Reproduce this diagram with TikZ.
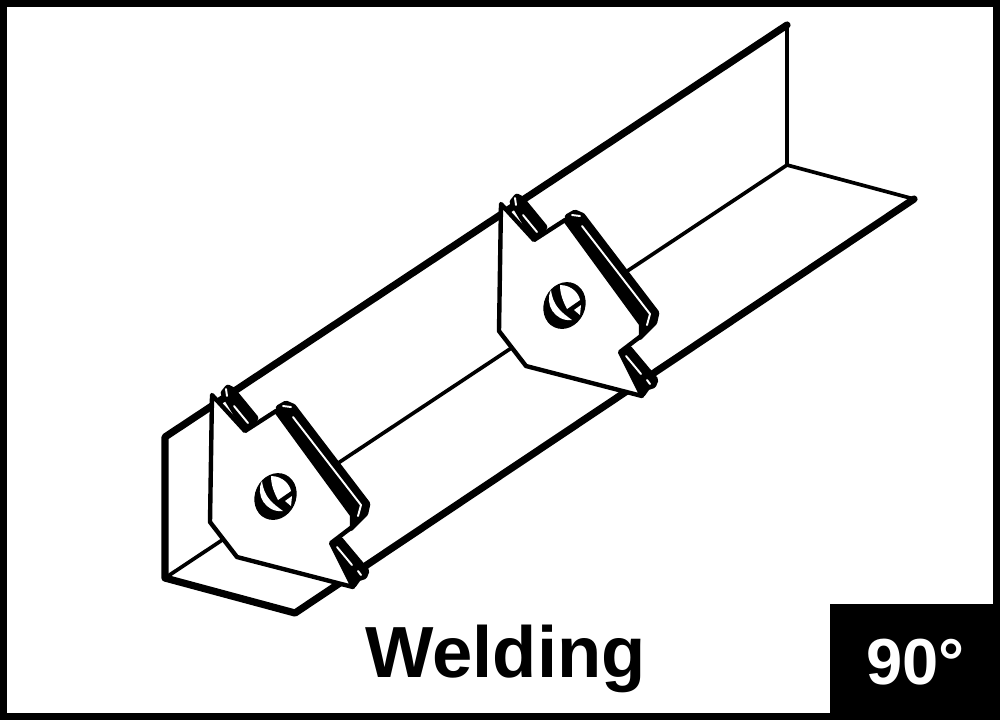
\documentclass[tikz,border=0pt]{standalone}
\usepackage{fontspec}
\setmainfont{Liberation Sans}
\begin{document}
\begin{tikzpicture}[x=.01cm, y=-.01cm, line join=round, line cap=round,
	edge/.style={line width=1.05pt},
	heavy/.style={line width=2.05pt},
	band/.style={fill=black, draw=black, line width=1.9pt},
	sliver/.style={draw=white, line width=.55pt},
	plate/.style={fill=white, draw=black, line width=1.25pt}]
\useasboundingbox (0,0) rectangle (1000,720);
\path (0,0) coordinate (P) (1000,720) coordinate (Q) (830,604) coordinate (K);
\fill[white] (P) rectangle (Q);
\draw[line width=2pt, line join=miter] (3.5,3.5) rectangle (996.5,716.5);
\fill (K) rectangle (1000,720);
% beam
\path (165,437) coordinate (A) (787,25) coordinate (B) (787,165) coordinate (C) (914,199) coordinate (D) (295,613) coordinate (E) (165,578) coordinate (F);
\draw[edge] (B)--(C)--(D) (C)--(F);
\draw[heavy] (F)--(A)--(B) (D)--(E)--(F);
% the two magnets
\foreach \dx/\dy in {0/0,289/-191}{
\begin{scope}[shift={(\dx,\dy)}]
\path[band] (279,408) -- (286,404) -- (293,407) -- (367,504) -- (365,513) -- (350,528) -- cycle;
\path[band] (224,393) -- (228,388) -- (232,390) -- (255,418) -- (245,428) -- cycle;
\path[band] (333,544) -- (340,540) -- (366,571) -- (364,576) -- (358,578) -- (353,585) -- cycle;
\draw[sliver] (293,417) -- (361,505) -- (358,516) (234,406) -- (248,423) (337,547) -- (352,565) (226,389) -- (227,396) (283,406) -- (291,407) (358,571) -- (361,575);
\path[plate] (212,395) -- (245,431) -- (276,411) -- (352,515) -- (352,527) -- (331,543) -- (353,587) -- (237,557) -- (210,522) -- cycle;
\fill[rotate around={-25:(275.5,496.5)}] (275.5,496.5) ellipse (20.5 and 24);
\fill[white] (262,481) .. controls (255,495) and (266,513) .. (283,511) .. controls (272,503) and (264,497) .. cycle;
\fill[white] (271,476) .. controls (283,476) and (290,485) .. (291,491) -- (278,500) .. controls (274,492) and (271,485) .. cycle;
\fill[white] (285,501) -- (292,496) -- (291,506) -- cycle;
\end{scope}
}
\node[font=\bfseries\fontsize{20.6}{24}\selectfont, inner sep=0pt] (weldingtext) at (505.5,658.5) {Welding};
\node[font=\bfseries\fontsize{18.5}{22}\selectfont, text=white, inner sep=0pt] (angletext) at (915.5,662) {90°};
\end{tikzpicture}
\end{document}
